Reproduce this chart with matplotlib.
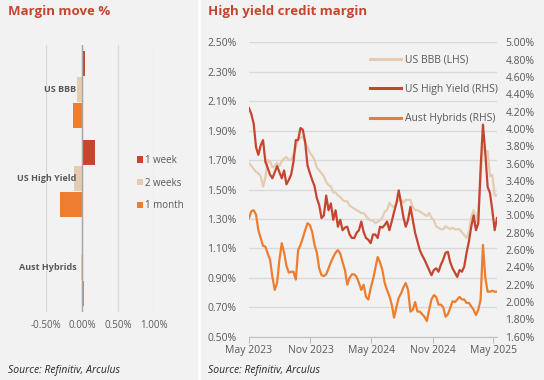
import numpy as np
import pandas as pd
import matplotlib
matplotlib.use("Agg")
import matplotlib.pyplot as plt
import matplotlib.dates as mdates
from matplotlib.patches import Rectangle

plt.rcParams['font.family'] = ['Open Sans', 'DejaVu Sans']

# ---- left panel: margin move % ----
categories = ["US BBB", "US High Yield", "Aust Hybrids"]
periods = ["1 week", "2 weeks", "1 month"]
move_1w = [0.04, 0.18, 0.02]
move_2w = [-0.07, -0.115, -0.01]
move_1m = [-0.13, -0.31, 0.03]

# ---- right panel: weekly margins from May 2023 ----
start_date = "2023-05-01"
us_bbb = [1.68, 1.66, 1.64, 1.62, 1.61, 1.59, 1.52, 1.58, 1.70, 1.69,
          1.65, 1.66, 1.68, 1.66, 1.69, 1.71, 1.72, 1.70, 1.70, 1.74,
          1.78, 1.85, 1.85, 1.86, 1.82, 1.79, 1.75, 1.73, 1.70, 1.65,
          1.63, 1.61, 1.59, 1.55, 1.53, 1.52, 1.48, 1.48, 1.46, 1.45,
          1.43, 1.42, 1.42, 1.39, 1.38, 1.37, 1.36, 1.35, 1.34, 1.34,
          1.32, 1.30, 1.29, 1.29, 1.27, 1.28, 1.29, 1.31, 1.35, 1.36,
          1.41, 1.39, 1.38, 1.41, 1.43, 1.43, 1.41, 1.43, 1.43, 1.43,
          1.38, 1.36, 1.36, 1.35, 1.34, 1.33, 1.32, 1.34, 1.31, 1.29,
          1.25, 1.24, 1.23, 1.23, 1.25, 1.24, 1.23, 1.24, 1.23, 1.23,
          1.23, 1.21, 1.19, 1.17, 1.21, 1.31, 1.36, 1.28, 1.36, 1.57,
          1.79, 1.76, 1.76, 1.59, 1.60, 1.46, 1.46]
us_hy = [4.24, 4.17, 4.06, 3.79, 3.70, 3.81, 3.87, 3.62, 3.55, 3.47,
         3.43, 3.50, 3.57, 3.50, 3.43, 3.52, 3.36, 3.41, 3.47, 3.62,
         3.87, 3.87, 4.01, 3.99, 3.85, 3.58, 3.49, 3.41, 3.34, 3.20,
         3.12, 2.97, 3.00, 3.23, 3.06, 3.14, 2.95, 3.06, 2.87, 2.95,
         2.83, 2.86, 2.87, 2.78, 2.74, 2.74, 2.80, 2.83, 2.93, 2.81,
         2.74, 2.72, 2.68, 2.78, 2.78, 2.74, 2.87, 2.86, 2.89, 2.93,
         2.83, 2.93, 3.04, 3.14, 3.29, 3.14, 2.98, 2.87, 2.95, 3.10,
         2.95, 2.80, 2.70, 2.60, 2.54, 2.49, 2.43, 2.37, 2.31, 2.37,
         2.39, 2.35, 2.43, 2.49, 2.57, 2.58, 2.46, 2.39, 2.34, 2.29,
         2.37, 2.35, 2.41, 2.57, 2.70, 2.87, 3.00, 2.83, 2.91, 3.55,
         4.05, 3.72, 3.33, 3.26, 3.06, 2.83, 2.97]
aust_hybrids = [2.97, 3.05, 3.06, 3.01, 2.83, 2.74, 2.65, 2.64, 2.56, 2.49,
                2.29, 2.14, 2.22, 2.49, 2.68, 2.57, 2.42, 2.34, 2.35, 2.35,
                2.26, 2.60, 2.66, 2.74, 2.83, 2.91, 2.89, 2.81, 2.66, 2.57,
                2.39, 2.31, 2.30, 2.32, 2.39, 2.46, 2.52, 2.57, 2.60, 2.56,
                2.46, 2.37, 2.20, 2.28, 2.32, 2.32, 2.29, 2.22, 2.14, 2.20,
                2.06, 2.03, 2.16, 2.26, 2.39, 2.52, 2.46, 2.37, 2.22, 2.14,
                2.07, 1.97, 1.82, 1.94, 2.05, 2.10, 2.17, 2.22, 2.14, 1.89,
                1.91, 2.00, 1.89, 1.89, 1.86, 1.83, 1.78, 1.91, 2.03, 2.08,
                2.06, 1.97, 1.97, 1.94, 1.83, 1.86, 1.93, 2.01, 2.00, 2.03,
                2.06, 2.03, 2.03, 1.99, 1.99, 1.95, 1.91, 1.85, 1.91, 2.03,
                2.66, 2.28, 2.12, 2.12, 2.13, 2.12, 2.12]
dates = pd.date_range(start_date, periods=len(us_hy), freq="7D")

RED = "#c5452f"
TAN = "#e3ccb2"
ORANGE = "#ee7d2e"
GREY_TXT = "#595959"
GRID = "#d9d9d9"
W, H = 544, 380

fig = plt.figure(figsize=(5.44, 3.80), dpi=100, facecolor="white")
# two grey panels
fig.patches.append(Rectangle((0, 0), 197 / W, 1, transform=fig.transFigure, color="#f2f2f2", zorder=-10))
fig.patches.append(Rectangle((201 / W, 0), 1 - 201 / W, 1, transform=fig.transFigure, color="#f2f2f2", zorder=-10))

fig.text(8 / W, 1 - 12 / H, "Margin move %", fontsize=9.5, fontweight="bold", color=RED, va="center")
fig.text(208 / W, 1 - 12 / H, "High yield credit margin", fontsize=9.5, fontweight="bold", color=RED, va="center")
fig.text(8 / W, 1 - 370 / H, "Source: Refinitiv, Arculus", fontsize=7.5, style="italic", color="#262626", va="center")
fig.text(208 / W, 1 - 370 / H, "Source: Refinitiv, Arculus", fontsize=7.5, style="italic", color="#262626", va="center")

# ---- left bars ----
axl = fig.add_axes([46 / W, 1 - 312 / H, 108 / W, 267 / H])
axl.set_facecolor("none")
y = np.arange(len(categories))
bh = 0.28
axl.barh(y - 0.287, move_1w, height=bh, color=RED, label=periods[0])
axl.barh(y, move_2w, height=bh, color=TAN, label=periods[1])
axl.barh(y + 0.287, move_1m, height=bh, color=ORANGE, label=periods[2])
axl.set_ylim(2.5, -0.5)
axl.set_xlim(-0.5, 1.0)
axl.set_xticks([-0.5, 0, 0.5, 1.0])
axl.set_xticklabels([f"{v:.2f}%" for v in [-0.5, 0, 0.5, 1.0]])
axl.set_yticks([])
axl.grid(axis="x", color=GRID, lw=1)
axl.set_axisbelow(True)
axl.axvline(0, color="#a6a6a6", lw=1)
for s in axl.spines.values():
    s.set_visible(False)
axl.tick_params(axis="x", length=0, labelsize=7, labelcolor=GREY_TXT, pad=6)
for i, c in enumerate(categories):
    axl.annotate(c, (0, i), xytext=(-4, 0), textcoords="offset points", ha="right", va="center",
                 fontsize=6.5, fontweight="bold", color=GREY_TXT)
axl.legend(loc="center left", bbox_to_anchor=(0.8, 0.483), frameon=False, fontsize=7,
           handlelength=0.6, handleheight=0.6, handletextpad=0.2, labelspacing=1.2,
           borderpad=0, labelcolor=GREY_TXT)

# ---- right lines ----
axr = fig.add_axes([249 / W, 1 - 336.7 / H, 248 / W, 294.4 / H])
axr.set_facecolor("none")
ax2 = axr.twinx()
l1, = axr.plot(dates, us_bbb, color=TAN, lw=1.6, label="US BBB (LHS)")
l2, = ax2.plot(dates, us_hy, color=RED, lw=1.6, label="US High Yield (RHS)")
l3, = ax2.plot(dates, aust_hybrids, color=ORANGE, lw=1.6, label="Aust Hybrids (RHS)")

lticks = np.arange(0.5, 2.51, 0.2)
axr.set_ylim(0.5, 2.5)
axr.set_yticks(lticks)
axr.set_yticklabels([f"{v:.2f}%" for v in lticks])
rticks = np.arange(1.6, 5.01, 0.2)
ax2.set_ylim(1.6, 5.0)
ax2.set_yticks(rticks)
ax2.set_yticklabels([f"{v:.2f}%" for v in rticks])
axr.grid(axis="y", color=GRID, lw=1)
axr.set_axisbelow(True)

axr.set_xlim(dates[0], dates[-1])
axr.xaxis.set_major_locator(mdates.MonthLocator(bymonth=[5, 11]))
axr.xaxis.set_major_formatter(mdates.DateFormatter("%b %Y"))
for a in (axr, ax2):
    for side in ("left", "right", "top"):
        a.spines[side].set_visible(False)
ax2.spines["bottom"].set_visible(False)
axr.spines["bottom"].set_color("#bfbfbf")
axr.tick_params(axis="x", length=4, color="#bfbfbf", labelsize=7.5, labelcolor=GREY_TXT, pad=2)
axr.tick_params(axis="y", length=0, labelsize=7.5, labelcolor=GREY_TXT, pad=9)
ax2.tick_params(axis="y", length=0, labelsize=7.5, labelcolor=GREY_TXT, pad=6)

ax2.legend(handles=[l1, l2, l3], loc="upper left", bbox_to_anchor=(0.465, 0.975), frameon=False,
           fontsize=7.5, handlelength=3.0, handletextpad=0.4, labelspacing=1.75, borderpad=0,
           labelcolor=GREY_TXT)
for line in ax2.get_legend().get_lines():
    line.set_linewidth(2.2)

fig.savefig("out.png", dpi=100, facecolor=fig.get_facecolor())
